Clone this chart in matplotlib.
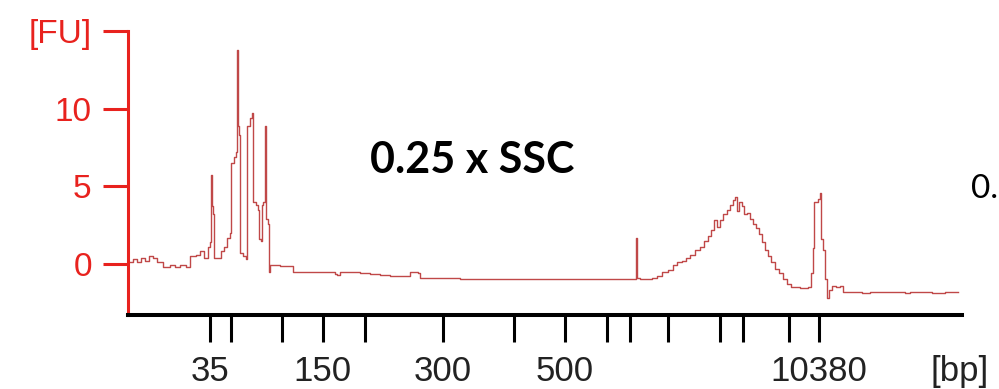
import matplotlib
matplotlib.use("Agg")
import matplotlib.pyplot as plt

# migration time (s) and fluorescence (FU)
time_s = [40.0, 40.5, 40.9, 41.3, 41.7, 42.1, 42.5, 42.9, 43.5, 44.2, 44.7, 45.2, 45.8,
          46.2, 46.8, 47.2, 47.6, 48.0, 48.25, 48.3, 48.4, 48.5, 48.6, 49.0, 49.3, 49.6,
          49.9, 50.2, 50.3, 50.6, 50.8, 50.9, 51.0, 51.1, 51.2, 51.5, 51.8, 51.9, 52.2,
          52.4, 52.55, 52.8, 53.0, 53.1, 53.3, 53.4, 53.5, 53.7, 53.8, 54.0, 54.1, 54.2,
          55.2, 56.2, 56.5, 57.2, 58.2, 59.2, 60.2, 60.7, 60.9, 61.2, 62.2, 63.2, 64.2,
          65.2, 66.2, 67.2, 68.2, 69.0, 69.2, 71.2, 73.2, 75.2, 77.2, 79.2, 81.2, 83.2,
          85.2, 87.2, 89.2, 90.6, 90.8, 90.9, 91.2, 92.0, 92.4, 92.9, 93.4, 94.0, 94.5,
          94.9, 95.4, 95.8, 96.2, 96.7, 97.2, 97.6, 98.0, 98.3, 98.6, 98.9, 99.2, 99.5,
          99.9, 100.2, 100.5, 100.7, 100.9, 101.1, 101.4, 101.6, 101.9, 102.2, 102.5,
          102.8, 103.1, 103.4, 103.7, 104.0, 104.3, 104.7, 105.1, 105.5, 105.9, 106.3,
          107.2, 108.0, 108.3, 108.5, 108.6, 109.0, 109.2, 109.3, 109.5, 109.7, 109.9,
          110.1, 110.4, 110.8, 111.2, 111.5, 112.2, 113.4, 114.2, 117.2, 117.7, 118.2,
          120.4, 120.9, 121.7, 123.0]
fu = [0.1, 0.3, 0.15, 0.4, 0.2, 0.5, 0.4, 0.1, -0.2, -0.1, -0.2, -0.05, -0.2,
      0.5, 0.6, 0.8, 0.4, 1.1, 1.4, 5.7, 3.7, 3.2, 0.4, 0.4, 0.8, 1.1,
      1.7, 2.0, 6.5, 6.9, 7.2, 13.8, 8.9, 8.3, 0.7, 0.5, 0.3, 8.9, 9.4,
      9.7, 4.0, 3.8, 3.5, 1.6, 1.5, 3.8, 4.0, 8.9, 2.9, 2.6, -0.5, -0.1,
      -0.15, -0.15, -0.5, -0.55, -0.5, -0.55, -0.5, -0.65, -0.7, -0.55, -0.55, -0.6, -0.65,
      -0.7, -0.8, -0.8, -0.55, -0.6, -0.9, -0.9, -0.95, -0.95, -0.95, -0.95, -0.95, -0.95,
      -0.95, -0.95, -0.95, -0.95, 1.7, -0.9, -1.0, -1.0, -0.9, -0.8, -0.5, -0.4, -0.1,
      0.1, 0.2, 0.4, 0.6, 0.9, 1.1, 1.5, 1.8, 2.2, 2.8, 2.4, 2.8, 3.2,
      3.5, 3.8, 4.1, 4.3, 3.4, 4.0, 3.7, 3.2, 3.3, 2.9, 2.6,
      2.3, 1.9, 1.4, 0.9, 0.5, 0.1, -0.3, -0.6, -1.0, -1.3, -1.5,
      -1.55, -1.5, -0.6, 1.0, 4.0, 4.2, 4.6, 1.6, 0.9, -1.0, -2.2,
      -1.7, -1.4, -1.5, -1.4, -1.8, -1.8, -1.9, -1.8, -1.8, -1.9, -1.8,
      -1.9, -1.9, -1.8, -1.8]

# ladder sizes (bp) and their migration times (s)
ladder_bp = [35, 50, 100, 150, 200, 300, 400, 500, 600, 700, 1000, 2000, 3000, 7000, 10380]
ladder_time = [48.2, 50.3, 55.4, 59.5, 63.7, 71.5, 78.6, 83.7, 87.9, 90.2, 94.0, 99.2, 101.5, 106.1, 109.1]
labelled_bp = [35, 150, 300, 500, 10380]

y_ticks = [0, 5, 10, 15]
y_labels = ["0", "5", "10", "[FU]"]

RED = "#e8221e"
TRACE = "#c04848"
FONT = "Liberation Sans"

fig = plt.figure(figsize=(9.99, 3.89), dpi=100)
ax = fig.add_axes([0.128, 0.190, 0.835, 0.730])

ax.plot(time_s, fu, color=TRACE, lw=1.0, drawstyle="steps-post")

ax.set_xlim(40, 123.4)
ax.set_ylim(-3.3, 15)

for s in ["top", "right"]:
    ax.spines[s].set_visible(False)
ax.spines["left"].set_color(RED)
ax.spines["left"].set_linewidth(2.2)
ax.spines["bottom"].set_color("black")
ax.spines["bottom"].set_linewidth(2.9)

ax.set_yticks(y_ticks)
ax.set_yticklabels(y_labels, fontfamily=FONT, fontsize=24, color=RED)
ax.tick_params(axis="y", direction="out", length=18, width=2.2, color=RED, pad=8)

ax.set_xticks(ladder_time)
ax.set_xticklabels([str(b) if b in labelled_bp else "" for b in ladder_bp],
                   fontfamily=FONT, fontsize=25, color="#222222")
ax.tick_params(axis="x", direction="out", length=19.5, width=2.2, color="black", pad=9)

fig.text(0.961, 0.046, "[bp]", fontfamily=FONT, fontsize=25, color="#222222",
         ha="center", va="center")

fig.text(0.473, 0.556, "0.25 x SSC", fontfamily="Lato", fontweight="bold",
         fontsize=31, color="black", ha="center", va="baseline")
fig.text(0.972, 0.49, "0.", fontfamily="Lato", fontsize=24,
         color="black", ha="left", va="baseline")

fig.savefig("out.png", dpi=100)
